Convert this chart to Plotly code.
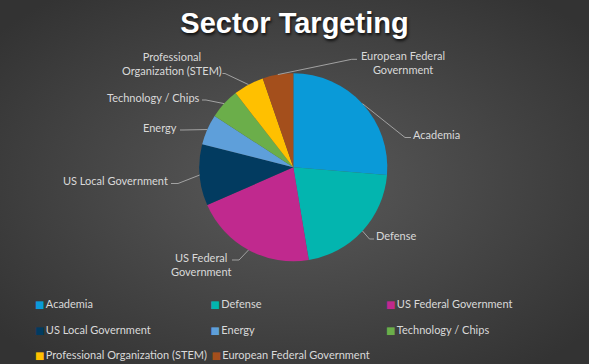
import base64
import math
import plotly.graph_objects as go

W, H = 589, 364
MB = 100  # bottom margin (legend lives below the plot area)
PH = H - MB

# ---- data ----
sectors = ["Academia", "Defense", "US Federal Government", "US Local Government",
           "Energy", "Technology / Chips", "Professional Organization (STEM)",
           "European Federal Government"]
counts = [5, 4, 4, 2, 1, 1, 1, 1]
colors = ["#0A9AD8", "#03B5AF", "#C0298E", "#023B60", "#5E9FDA", "#6BAE4A", "#FFC000", "#A44F1C"]

# ---- layout (pixel positions of labels) ----
label_text = ["Academia", "Defense", "US Federal<br>Government", "US Local Government",
              "Energy", "Technology / Chips", "Professional<br>Organization (STEM)",
              "European Federal<br>Government"]
# (text x, text y, xanchor, elbow x, elbow y, end x, end y)
label_pos = [
    (411, 134, "left", 405, 137.5, 411, 137.5),
    (374, 235, "left", 369.5, 239, 374, 239),
    (201, 264, "center", 239, 260, 232, 260),
    (170, 180, "right", 178, 183.5, 171, 183.5),
    (179, 127.5, "right", 183, 130, 180, 130),
    (202, 97, "right", 206, 100, 202, 100),
    (172, 63.5, "center", 225, 73.5, 222.5, 73.5),
    (403, 62.5, "center", 351.7, 59.3, 357, 59.3),
]

cx, cy, R = 293.3, 167.3, 94.0


def px(x):
    return x / W


def py(y):
    return (PH - y) / PH


fig = go.Figure()
fig.add_trace(go.Pie(
    labels=sectors, values=counts, sort=False, direction="clockwise", rotation=0,
    marker=dict(colors=colors, line=dict(width=0)),
    textinfo="none", hoverinfo="label+value+percent", showlegend=False,
    domain=dict(x=[px(cx - R), px(cx + R)], y=[py(cy + R), py(cy - R)]),
))

# legend entries: rows of 3; last row split so long text does not collide
legend_of = ["legend", "legend", "legend", "legend2", "legend2", "legend2", "legend3", "legend4"]
for name, c, lg in zip(sectors, colors, legend_of):
    fig.add_trace(go.Scatter(
        x=[None], y=[None], mode="markers",
        name=f"<span style=\"font-family:'DejaVu Sans';font-size:10px;color:{c}\">■</span>\u2009{name}",
        marker=dict(symbol="square", size=1, color="rgba(0,0,0,0)", line=dict(width=0)),
        legend=lg, hoverinfo="skip", showlegend=True,
    ))

# leader lines + labels
total = sum(counts)
cum = 0
shapes = []
annotations = []
for i, v in enumerate(counts):
    mid = (cum + v / 2) / total * 2 * math.pi
    cum += v
    sx = cx + R * math.sin(mid)
    sy = cy - R * math.cos(mid)
    tx, ty, anc, ex, ey, fx, fy = label_pos[i]
    shapes.append(dict(type="path", xref="paper", yref="paper",
                       path=f"M{px(sx)},{py(sy)} L{px(ex)},{py(ey)} L{px(fx)},{py(fy)}",
                       line=dict(color="#ABABAB", width=0.9)))
    annotations.append(dict(text=label_text[i], x=px(tx), y=py(ty), xref="paper", yref="paper",
                            xanchor=anc, yanchor="middle", showarrow=False, align="center",
                            font=dict(family="Lato", size=11, color="#D9D9D9")))

svg = f"""<svg xmlns='http://www.w3.org/2000/svg' width='{W}' height='{H}'>
<defs><radialGradient id='g' cx='50%' cy='50%' r='65%'>
<stop offset='0%' stop-color='#5A5A5A'/><stop offset='100%' stop-color='#333333'/>
</radialGradient></defs>
<rect width='{W}' height='{H}' fill='url(#g)'/></svg>"""
src = "data:image/svg+xml;base64," + base64.b64encode(svg.encode()).decode()

row_y = [304, 329.3, 355]
col_x = [35, 211.5]   # left edge of swatch per column
leg_font = dict(family="Lato", size=11, color="#D9D9D9")
leg_common = dict(orientation="h", xanchor="left", yanchor="middle", itemwidth=30,
                  font=leg_font, bgcolor="rgba(0,0,0,0)", traceorder="normal")

fig.update_layout(
    width=W, height=H,
    margin=dict(l=0, r=0, t=0, b=MB, autoexpand=False),
    paper_bgcolor="#474747", plot_bgcolor="rgba(0,0,0,0)",
    xaxis=dict(visible=False), yaxis=dict(visible=False),
    images=[dict(source=src, xref="paper", yref="paper", x=0, y=1, sizex=1, sizey=H / PH,
                 sizing="stretch", layer="below", xanchor="left", yanchor="top")],
    title=dict(text="<b>Sector Targeting</b>", x=0.5, xanchor="center", y=1 - 23 / H, yanchor="middle",
               font=dict(family="Liberation Sans", size=29, color="#FFFFFF",
                         shadow="1px 2px 3px rgba(0,0,0,0.8)")),
    shapes=shapes,
    annotations=annotations,
    showlegend=True,
    legend=dict(leg_common, x=px(col_x[0] - 40), y=py(row_y[0]), entrywidth=130.5, entrywidthmode="pixels"),
    legend2=dict(leg_common, x=px(col_x[0] - 40), y=py(row_y[1]), entrywidth=130.5, entrywidthmode="pixels"),
    legend3=dict(leg_common, x=px(col_x[0] - 40), y=py(row_y[2])),
    legend4=dict(leg_common, x=px(col_x[1] - 40), y=py(row_y[2])),
)

fig.write_html("out.html", config={"displayModeBar": False},
               post_script="document.body.style.margin='0';")
